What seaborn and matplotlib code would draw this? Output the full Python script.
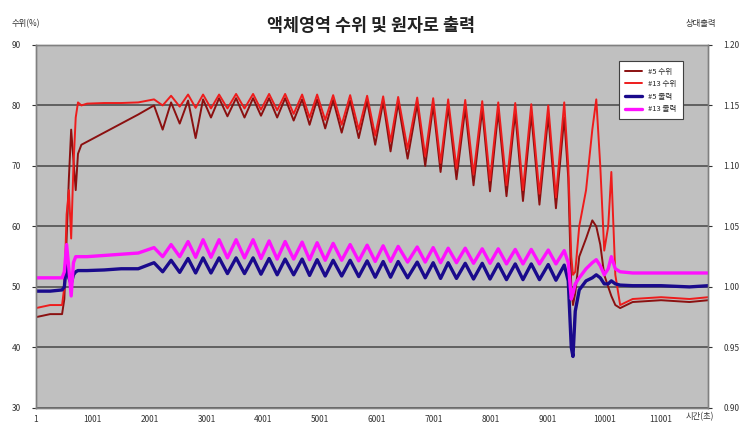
import matplotlib
matplotlib.use('Agg')
import matplotlib.pyplot as plt
import seaborn as sns
import pandas as pd

sns.set_style("white")
plt.rcParams['font.family'] = ['Noto Sans CJK KR', 'DejaVu Sans']
plt.rcParams['axes.unicode_minus'] = False

# 시간축 (초) - 진동 전 구간 / 진동 구간(피크, 골) / 이후 구간
pre_t = [1, 250, 460, 500, 540, 580, 620, 660, 700, 740, 800, 900, 1200, 1500, 1800]
peak_t = [2078, 2378, 2677, 2941, 3223, 3522, 3821, 4103, 4385, 4684, 4948, 5230, 5529,
          5828, 6110, 6374, 6709, 6990, 7254, 7554, 7853, 8135, 8434, 8716, 9015, 9296]
trough_t = [2230, 2530, 2810, 3080, 3370, 3670, 3960, 4245, 4535, 4815, 5090, 5380, 5680,
            5970, 6240, 6540, 6850, 7120, 7400, 7700, 7990, 8280, 8570, 8860, 9150]
post_t = [9367, 9420, 9450, 9490, 9560, 9680, 9790, 9860, 9930, 10000, 10070, 10125,
          10195, 10280, 10500, 11000, 11500, 11830]

# #13 수위 (%)
lv13_pre = [46.5, 47.0, 47.0, 50.0, 62.0, 66.0, 58.0, 70.0, 78.0, 80.5, 80.0, 80.3, 80.4, 80.4, 80.5]
lv13_peak = [81.0, 81.6, 81.8, 81.8, 81.8, 81.9, 81.9, 81.9, 81.9, 81.8, 81.8, 81.7, 81.7,
             81.6, 81.5, 81.4, 81.3, 81.2, 81.0, 80.9, 80.7, 80.5, 80.4, 80.2, 80.0, 80.5]
lv13_trough = [80.0, 79.8, 79.6, 79.5, 79.5, 79.5, 79.3, 79.2, 78.6, 78.0, 77.6, 76.8, 76.0,
               75.0, 74.0, 72.8, 71.6, 70.5, 69.6, 68.6, 67.6, 66.8, 66.0, 65.4, 64.8]
lv13_post = [70.0, 55.0, 52.0, 52.5, 60.0, 66.0, 76.0, 81.0, 70.0, 56.0, 60.0, 69.0, 52.0,
             47.0, 48.0, 48.3, 48.0, 48.3]

# #5 수위 (%)
lv5_pre = [45.0, 45.5, 45.5, 48.0, 58.0, 68.0, 76.0, 71.0, 66.0, 72.0, 73.5, 74.0, 75.5, 77.0, 78.5]
lv5_peak = [80.0, 80.5, 80.8, 81.0, 81.2, 81.2, 81.2, 81.2, 81.2, 81.0, 81.0, 80.9, 80.8,
            80.7, 80.6, 80.4, 80.2, 80.0, 79.8, 79.5, 79.3, 79.0, 78.8, 78.5, 78.3, 78.0]
lv5_trough = [76.0, 77.0, 74.6, 78.0, 78.2, 78.0, 78.3, 78.0, 77.5, 76.8, 76.2, 75.5, 74.6,
              73.5, 72.4, 71.2, 70.0, 69.0, 67.8, 66.8, 65.8, 65.0, 64.2, 63.6, 63.0]
lv5_post = [68.0, 50.0, 47.0, 49.0, 55.0, 58.0, 61.0, 60.0, 57.0, 52.0, 50.0, 48.5, 47.0,
            46.5, 47.5, 47.8, 47.5, 47.8]

# #5 출력 (상대값)
pw5_pre = [0.9965, 0.9965, 0.9975, 1.0, 1.02, 1.0075, 1.0025, 1.01, 1.0125, 1.0135, 1.0135,
           1.0135, 1.014, 1.015, 1.015]
pw5_peak = [1.020, 1.022, 1.0235, 1.024, 1.024, 1.024, 1.024, 1.0235, 1.023, 1.023, 1.0225,
            1.022, 1.022, 1.0215, 1.021, 1.021, 1.0205, 1.020, 1.020, 1.0195, 1.0195, 1.019,
            1.019, 1.019, 1.0185, 1.018]
pw5_trough = [1.0125, 1.012, 1.0115, 1.0115, 1.011, 1.011, 1.0105, 1.010, 1.010, 1.0095,
              1.009, 1.009, 1.0085, 1.008, 1.008, 1.0075, 1.0075, 1.007, 1.007, 1.0065,
              1.0065, 1.006, 1.006, 1.006, 1.0055]
pw5_post = [1.005, 0.95, 0.9425, 0.98, 0.9975, 1.005, 1.0075, 1.01, 1.0075, 1.0025, 1.0025,
            1.005, 1.0025, 1.0015, 1.001, 1.001, 1.0, 1.001]

# #13 출력 (상대값)
pw13_pre = [1.0075, 1.0075, 1.0075, 1.0125, 1.035, 1.015, 0.9925, 1.02, 1.025, 1.025, 1.025,
            1.025, 1.026, 1.027, 1.028]
pw13_peak = [1.0325, 1.035, 1.0375, 1.039, 1.039, 1.039, 1.039, 1.038, 1.0375, 1.037, 1.0365,
             1.036, 1.035, 1.0345, 1.034, 1.0335, 1.033, 1.0325, 1.032, 1.032, 1.0315, 1.0315,
             1.031, 1.031, 1.0305, 1.030]
pw13_trough = [1.025, 1.025, 1.0245, 1.0245, 1.024, 1.024, 1.0235, 1.023, 1.023, 1.0225,
               1.022, 1.022, 1.0215, 1.021, 1.021, 1.0205, 1.0205, 1.020, 1.020, 1.0195,
               1.0195, 1.019, 1.019, 1.019, 1.019]
pw13_post = [1.02, 0.99, 0.995, 1.0025, 1.0075, 1.015, 1.02, 1.0225, 1.0175, 1.01, 1.015,
             1.025, 1.015, 1.0125, 1.0115, 1.0115, 1.0115, 1.0115]

xtick_pos = [1, 1001, 2001, 3001, 4001, 5001, 6001, 7001, 8001, 9001, 10001, 11001]
xtick_lab = [str(v) for v in xtick_pos]


def build(pre, peaks, troughs, post):
    t, v = list(pre_t), list(pre)
    for i in range(len(peak_t)):
        t.append(peak_t[i]); v.append(peaks[i])
        if i < len(trough_t):
            t.append(trough_t[i]); v.append(troughs[i])
    t += post_t
    v += post
    return pd.DataFrame({'t': t, 'v': v})


df_lv5 = build(lv5_pre, lv5_peak, lv5_trough, lv5_post)
df_lv13 = build(lv13_pre, lv13_peak, lv13_trough, lv13_post)
df_pw5 = build(pw5_pre, pw5_peak, pw5_trough, pw5_post)
df_pw13 = build(pw13_pre, pw13_peak, pw13_trough, pw13_post)

fig = plt.figure(figsize=(7.42, 4.28), dpi=100)
ax = fig.add_axes([0.0485, 0.047, 0.906, 0.848])
ax.set_facecolor('#c0c0c0')

sns.lineplot(data=df_lv5, x='t', y='v', ax=ax, color='#8b1010', linewidth=1.4, label='#5 수위')
sns.lineplot(data=df_lv13, x='t', y='v', ax=ax, color='#ee1c1c', linewidth=1.4, label='#13 수위')
ax.set_ylim(30, 90)
ax.set_xlim(1, 11830)
ax.set_yticks([30, 40, 50, 60, 70, 80, 90])
ax.set_yticklabels(['30', '40', '50', '60', '70', '80', '90'])
ax.yaxis.grid(True, color='#505050', linewidth=1.2)
ax.set_axisbelow(True)
ax.set_xlabel('')
ax.set_ylabel('')
ax.set_xticks(xtick_pos)
ax.set_xticklabels(xtick_lab)
ax.tick_params(axis='y', labelsize=6, colors='#333333', length=3, pad=8)
ax.tick_params(axis='x', labelsize=6, colors='#333333', length=3, pad=2)

ax2 = ax.twinx()
sns.lineplot(data=df_pw5, x='t', y='v', ax=ax2, color='#1a0a8c', linewidth=2.4, label='#5 출력')
sns.lineplot(data=df_pw13, x='t', y='v', ax=ax2, color='#ff10ff', linewidth=2.4, label='#13 출력')
ax2.set_ylim(0.90, 1.20)
ax2.set_yticks([0.90, 0.95, 1.00, 1.05, 1.10, 1.15, 1.20])
ax2.set_yticklabels(['0.90', '0.95', '1.00', '1.05', '1.10', '1.15', '1.20'])
ax2.set_ylabel('')
ax2.tick_params(axis='y', labelsize=6, colors='#333333', length=3, pad=8)

for a in (ax, ax2):
    for s in a.spines.values():
        s.set_color('#808080')
        s.set_linewidth(1.0)

ax.get_legend().remove()
h1, l1 = ax.get_legend_handles_labels()
h2, l2 = ax2.get_legend_handles_labels()
leg = ax2.legend(h1 + h2, l1 + l2, loc='upper left', bbox_to_anchor=(0.862, 0.965),
                 fontsize=5.5, frameon=True, fancybox=False, framealpha=1,
                 edgecolor='#404040', handlelength=2.2, borderpad=0.8, labelspacing=0.6)
leg.get_frame().set_linewidth(0.8)

fig.text(0.5, 0.94, '액체영역 수위 및 원자로 출력', ha='center', va='center',
         fontsize=12.5, fontweight='bold', color='#222222')
fig.text(0.035, 0.945, '수위(%)', ha='center', va='center', fontsize=6, color='#333333')
fig.text(0.945, 0.945, '상대출력', ha='center', va='center', fontsize=6, color='#333333')
ax.text(0.988, -0.012, '시간(초)', transform=ax.transAxes, ha='center', va='top',
        fontsize=6, color='#333333')

fig.savefig('out.png', dpi=100, facecolor='white')
